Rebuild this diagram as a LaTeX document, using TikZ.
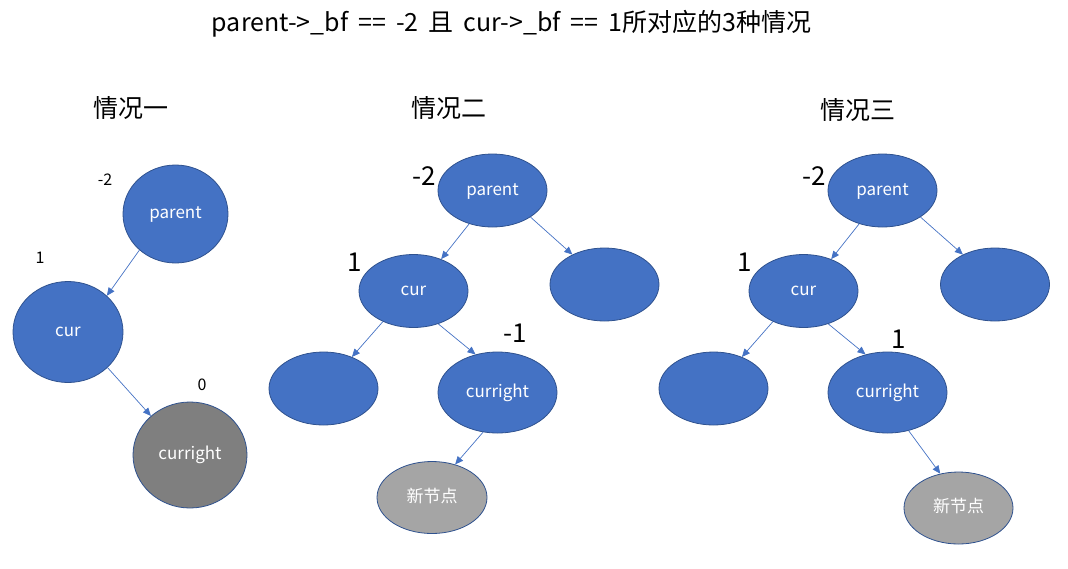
\documentclass[tikz,border=0pt]{standalone}
\usepackage{fontspec}
\setmainfont{Noto Sans CJK SC}
\usetikzlibrary{shapes.geometric,arrows.meta}
\definecolor{nblue}{HTML}{4472C4}
\definecolor{nedge}{HTML}{2F528F}
\definecolor{ngrayd}{HTML}{7F7F7F}
\definecolor{ngrayl}{HTML}{A5A5A5}
\tikzset{
  tn/.style={ellipse, draw=nedge, line width=0.8pt, fill=nblue, text=white, font=\fontsize{17}{20}\selectfont, inner sep=0pt, text height=11pt, text depth=2pt},
  big/.style={tn, minimum width=109pt, minimum height=73pt},
  arr/.style={draw=nblue, line width=0.7pt, -{Triangle[length=8pt,width=7pt]}},
  bf/.style={font=\fontsize{16}{19}\selectfont},
  bfbig/.style={font=\fontsize{26}{30}\selectfont},
  casetitle/.style={font=\fontsize{25}{30}\selectfont},
}
\begin{document}
\begin{tikzpicture}[x=1pt,y=-1pt]
\useasboundingbox (0,0) rectangle (1068,568);
\node[font=\fontsize{25}{30}\selectfont] (title) at (511.5,24) {\spaceskip=0.4em\relax parent->\_bf == -2 且 cur->\_bf == 1所对应的3种情况};
% case 1
\node[casetitle] (c1) at (131,108) {情况一};
\node[tn, minimum width=105pt, minimum height=98pt] (p1) at (175.5,214) {parent};
\node[tn, minimum width=110pt, minimum height=101pt] (u1) at (68,332) {cur};
\node[tn, fill=ngrayd, minimum width=114pt, minimum height=106pt] (r1) at (190,455) {curright};
\node[bf] (l1a) at (105,180) {-2};
\node[bf] (l1b) at (40,258) {1};
\node[bf] (l1c) at (202,385) {0};
\draw[arr] (p1.-135) -- (u1.43);
\draw[arr] (u1.-42) -- (r1.135);
% case 2
\node[casetitle] (c2) at (449,108) {情况二};
\node[big] (p2) at (492.5,190.5) {parent};
\node[big] (s2) at (604.5,284.5) {};
\node[big] (u2) at (413.5,291) {cur};
\node[big] (l2) at (323.5,388.5) {};
\node[big, minimum width=119pt, minimum height=81pt] (r2) at (497.5,392.5) {curright};
\node[tn, fill=ngrayl, minimum width=110pt, minimum height=72pt] (n2) at (432,497.5) {新节点};
\node[bfbig] (l2a) at (424,176) {-2};
\node[bfbig] (l2b) at (355,262) {1};
\node[bfbig] (l2c) at (515,333) {-1};
\draw[arr] (p2.-125) -- (u2.49);
\draw[arr] (p2.-35) -- (s2.137);
\draw[arr] (u2.-135) -- (l2.48);
\draw[arr] (u2.-53) -- (r2.120);
\draw[arr] (r2.-110) -- (n2.55);
% case 3
\node[casetitle] (c3) at (858,110) {情况三};
\node[big] (p3) at (882.5,190.5) {parent};
\node[big] (s3) at (995,284.5) {};
\node[big] (u3) at (803.5,291) {cur};
\node[big] (l3) at (713.5,388.5) {};
\node[big, minimum width=119pt, minimum height=81pt] (r3) at (887.5,392.5) {curright};
\node[tn, fill=ngrayl, minimum width=109pt, minimum height=72pt] (n3) at (958.5,508) {新节点};
\node[bfbig] (l3a) at (814,176) {-2};
\node[bfbig] (l3b) at (745,262) {1};
\node[bfbig] (l3c) at (899,339) {1};
\draw[arr] (p3.-125) -- (u3.49);
\draw[arr] (p3.-35) -- (s3.137);
\draw[arr] (u3.-135) -- (l3.48);
\draw[arr] (u3.-53) -- (r3.120);
\draw[arr] (r3.-61) -- (n3.118);
\end{tikzpicture}
\end{document}
